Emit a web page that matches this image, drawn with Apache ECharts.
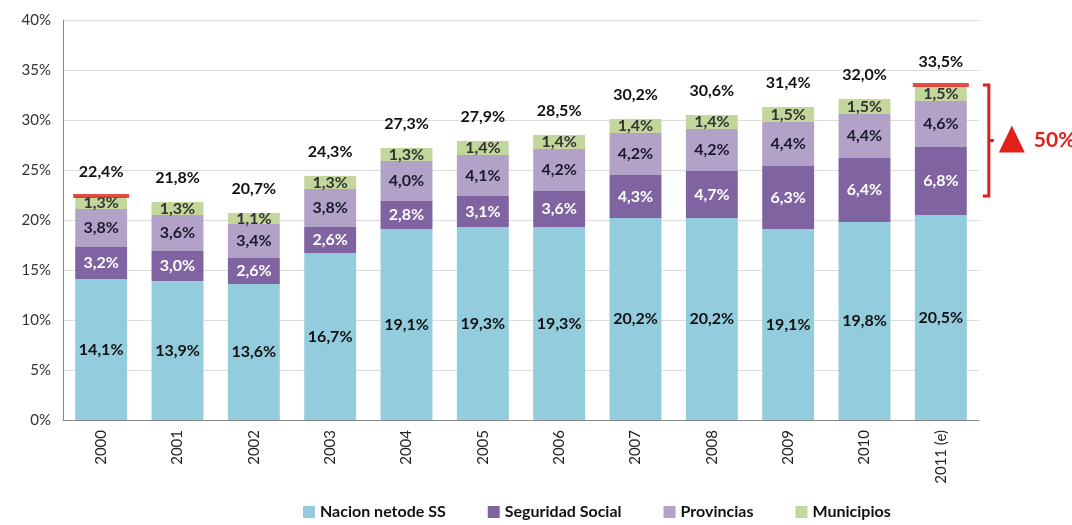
<!DOCTYPE html>
<html><head><meta charset="utf-8">
<script src="https://cdn.jsdelivr.net/npm/echarts@6/dist/echarts.min.js"></script>
<style>html,body{margin:0;padding:0;background:#fff}#c{width:1072px;height:525px}</style>
</head><body><div id="c"></div>
<script>
const categories = ['2000','2001','2002','2003','2004','2005','2006','2007','2008','2009','2010','2011 (e)'];
const nacion = [14.1,13.9,13.6,16.7,19.1,19.3,19.3,20.2,20.2,19.1,19.8,20.5];
const seguridad = [3.2,3.0,2.6,2.6,2.8,3.1,3.6,4.3,4.7,6.3,6.4,6.8];
const provincias = [3.8,3.6,3.4,3.8,4.0,4.1,4.2,4.2,4.2,4.4,4.4,4.6];
const municipios = [1.3,1.3,1.1,1.3,1.3,1.4,1.4,1.4,1.4,1.5,1.5,1.5];
const totals = [22.4,21.8,20.7,24.3,27.3,27.9,28.5,30.2,30.6,31.4,32.0,33.5];
const yTicks = [0,5,10,15,20,25,30,35,40];
const seriesNames = ['Nacion netode SS','Seguridad Social','Provincias','Municipios'];
const highlightIdx = [0, 11];
const growthText = '50%';

const FONT = 'Lato, "Open Sans", sans-serif';
const fmt = v => v.toFixed(1).replace('.', ',') + '%';
const chart = echarts.init(document.getElementById('c'));
const lbl = (color) => ({show:true, position:'inside', formatter:p=>fmt(p.value), color:color, fontFamily:FONT, fontWeight:'bold', fontSize:16});
const BW = '68%';
chart.setOption({
  animation:false,
  grid:{left:63, right:93, top:20, bottom:105},
  legend:{bottom:0, left:298, itemWidth:12, itemHeight:12, itemGap:42, icon:'rect',
    textStyle:{fontFamily:FONT, fontWeight:'bold', fontSize:16, color:'#111'}, data:seriesNames},
  xAxis:{type:'category', data:categories,
    axisLine:{lineStyle:{color:'#888'}}, axisTick:{show:false},
    axisLabel:{rotate:90, fontFamily:FONT, fontSize:15, color:'#222', margin:10}},
  yAxis:{type:'value', min:yTicks[0], max:yTicks[yTicks.length-1], interval:5,
    axisLine:{show:true, lineStyle:{color:'#888'}}, axisTick:{show:false},
    splitLine:{lineStyle:{color:'#dcdcdc'}},
    axisLabel:{formatter:v=>v+'%', fontFamily:FONT, fontSize:15, color:'#333', margin:12}},
  series:[
    {name:seriesNames[0], type:'bar', stack:'t', barWidth:BW, data:nacion, itemStyle:{color:'#93CDDD'}, label:lbl('#111')},
    {name:seriesNames[1], type:'bar', stack:'t', data:seguridad, itemStyle:{color:'#8064A2'}, label:lbl('#ffffff')},
    {name:seriesNames[2], type:'bar', stack:'t', data:provincias, itemStyle:{color:'#B3A2C7'}, label:lbl('#1a1a2e')},
    {name:seriesNames[3], type:'bar', stack:'t', data:municipios, itemStyle:{color:'#C3D69B'}, label:lbl('#333')},
    {name:'total', type:'bar', stack:'t', data:totals.map(()=>0), itemStyle:{color:'transparent'},
      label:{show:true, position:'top', distance:16, formatter:p=>fmt(totals[p.dataIndex]), color:'#111', fontFamily:FONT, fontWeight:'bold', fontSize:16}},
    {name:'mark', type:'scatter', symbol:'rect', symbolSize:[56,4], z:5,
      data:highlightIdx.map(i=>[i, totals[i]]), itemStyle:{color:'#E0201B'}}
  ]
});
const iLast = highlightIdx[1], iFirst = highlightIdx[0];
const yTop = chart.convertToPixel({seriesIndex:0}, [iLast, totals[iLast]])[1];
const yBot = chart.convertToPixel({seriesIndex:0}, [iLast, totals[iFirst]])[1];
const xB = chart.convertToPixel({seriesIndex:0}, [iLast, 0])[0] + 48;
const yMid = (yTop + yBot) / 2;
const red = '#E0201B';
chart.setOption({graphic:[
  {type:'polyline', shape:{points:[[xB-6,yTop],[xB,yTop],[xB,yBot],[xB-6,yBot]]}, style:{stroke:red, lineWidth:3, fill:null}},
  {type:'line', shape:{x1:xB, y1:yMid, x2:xB+5, y2:yMid}, style:{stroke:red, lineWidth:3}},
  {type:'polygon', shape:{points:[[xB+10,yMid+12],[xB+23,yMid-15],[xB+36,yMid+12]]}, style:{fill:red}},
  {type:'text', x:xB+45, y:yMid, style:{text:growthText, fill:red, font:'bold 21px '+FONT, verticalAlign:'middle'}}
]});
</script></body></html>
